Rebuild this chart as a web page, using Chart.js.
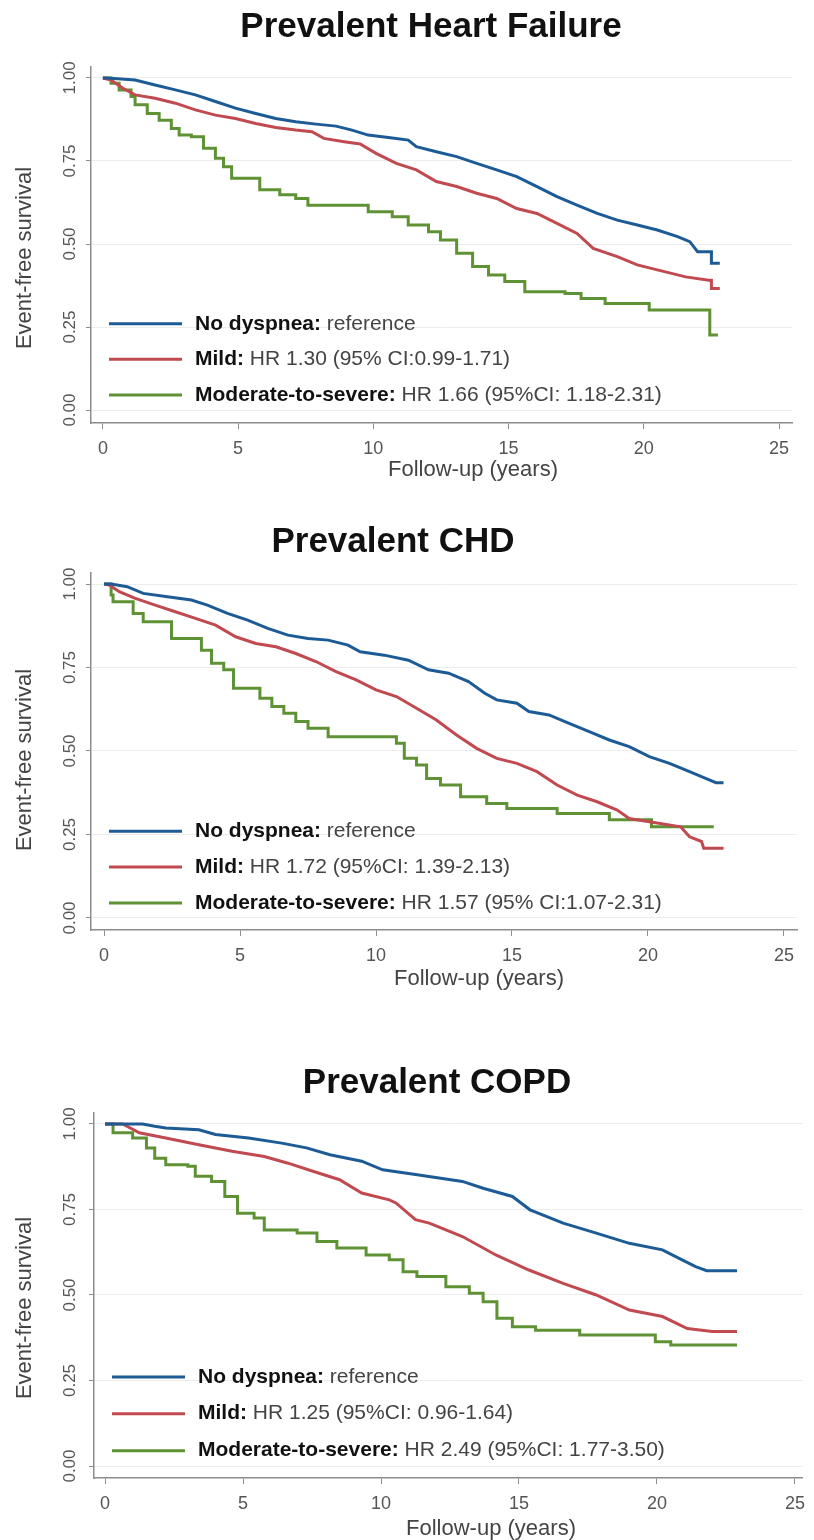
<!DOCTYPE html>
<html>
<head>
<meta charset="utf-8">
<title>Event-free survival by dyspnea grade</title>
<script src="https://cdn.jsdelivr.net/npm/chart.js@4.4.1/dist/chart.umd.min.js"></script>
<style>
    body { margin: 0; background: #fff; }
    .panel { position: absolute; left: 0; width: 814px; }
</style>
</head>
<body>
<div class="panel" style="top:0px"><canvas id="hf" width="814" height="500"></canvas></div>
<div class="panel" style="top:500px"><canvas id="chd" width="814" height="500"></canvas></div>
<div class="panel" style="top:1040px"><canvas id="copd" width="814" height="500"></canvas></div>
<script>
// Tick values shared by all three panels
const xTicks = [0, 5, 10, 15, 20, 25];
const yTicks = [0, 0.25, 0.5, 0.75, 1];

// Group names and colours (same order in every panel)
const groupNames = ['No dyspnea:', 'Mild:', 'Moderate-to-severe:'];
const groupColors = ['#1d5b96', '#c04a50', '#5e9234'];
// the big groups have many tiny steps, the small group shows clear steps
const groupStepped = [false, false, 'before'];

// Hazard ratio text per panel
const hfLabels = [' reference', ' HR 1.30 (95% CI:0.99-1.71)', ' HR 1.66 (95%CI: 1.18-2.31)'];
const chdLabels = [' reference', ' HR 1.72 (95%CI: 1.39-2.13)', ' HR 1.57 (95% CI:1.07-2.31)'];
const copdLabels = [' reference', ' HR 1.25 (95%CI: 0.96-1.64)', ' HR 2.49 (95%CI: 1.77-3.50)'];

// Kaplan-Meier curves, [follow-up years, event-free survival]
const hfNone = [[0,1],[0.15,1],[1.19,0.994],[1.93,0.979],[2.68,0.964],[3.42,0.949],[4.16,0.929],[4.9,0.909],
    [5.65,0.893],[6.39,0.878],[7.13,0.868],[7.88,0.861],[8.62,0.855],[9.21,0.843],[9.81,0.828],[10.85,0.818],
    [11.29,0.813],[11.59,0.793],[12.33,0.778],[13.08,0.763],[13.82,0.743],[14.56,0.723],[15.3,0.703],
    [16.05,0.673],[16.79,0.643],[17.53,0.617],[18.28,0.592],[19.02,0.572],[19.76,0.557],[20.5,0.542],
    [21.25,0.522],[21.7,0.507],[21.99,0.477],[22.5,0.477],[22.5,0.442],[22.81,0.442]];
const hfMild = [[0,1],[0.3,0.994],[0.74,0.969],[1.19,0.949],[1.93,0.939],[2.68,0.924],[3.42,0.904],[4.16,0.888],
    [4.9,0.878],[5.65,0.863],[6.39,0.851],[7.13,0.843],[7.73,0.838],[8.17,0.818],[8.92,0.808],[9.51,0.801],
    [10.1,0.773],[10.85,0.743],[11.59,0.723],[12.33,0.688],[13.08,0.673],[13.82,0.653],[14.56,0.637],
    [15.3,0.607],[16.05,0.592],[16.79,0.562],[17.53,0.532],[18.13,0.487],[19.02,0.462],[19.76,0.437],
    [20.5,0.422],[21.55,0.401],[22.4,0.391],[22.5,0.391],[22.5,0.366],[22.81,0.366]];
const hfModSev = [[0,1],[0.3,0.984],[0.6,0.964],[1.04,0.944],[1.19,0.919],[1.64,0.893],[2.08,0.873],[2.53,0.848],
    [2.82,0.828],[3.27,0.823],[3.72,0.788],[4.16,0.758],[4.46,0.733],[4.76,0.698],[5.8,0.663],[6.54,0.648],
    [7.13,0.637],[7.58,0.617],[9.81,0.597],[10.7,0.582],[11.29,0.557],[12.04,0.537],[12.48,0.512],
    [13.08,0.472],[13.67,0.432],[14.26,0.407],[14.86,0.387],[15.6,0.356],[17.09,0.351],[17.68,0.336],
    [18.57,0.321],[20.2,0.301],[22.44,0.226],[22.74,0.226]];

const chdNone = [[0,1],[0.26,1],[0.85,0.992],[1.44,0.972],[2.33,0.962],[3.21,0.952],[3.8,0.937],[4.54,0.912],
    [5.28,0.892],[6.02,0.867],[6.76,0.847],[7.5,0.837],[8.24,0.832],[8.97,0.817],[9.42,0.797],[10.3,0.787],
    [11.19,0.772],[11.93,0.743],[12.67,0.733],[13.4,0.708],[14.0,0.673],[14.44,0.653],[15.18,0.643],
    [15.62,0.618],[16.36,0.608],[17.1,0.583],[17.84,0.558],[18.58,0.533],[19.31,0.513],[20.05,0.483],
    [20.79,0.463],[21.53,0.438],[22.12,0.418],[22.5,0.405],[22.78,0.405]];
const chdMild = [[0,1],[0.19,0.997],[0.56,0.977],[1.15,0.957],[1.88,0.937],[2.62,0.917],[3.36,0.897],[4.1,0.877],
    [4.84,0.842],[5.58,0.822],[6.32,0.812],[7.05,0.792],[7.79,0.768],[8.53,0.738],[9.27,0.713],[10.0,0.683],
    [10.75,0.663],[11.49,0.628],[12.22,0.593],[12.96,0.548],[13.7,0.508],[14.44,0.478],[15.18,0.463],
    [15.92,0.438],[16.66,0.398],[17.4,0.368],[18.13,0.348],[18.87,0.323],[19.31,0.298],[20.05,0.288],
    [21.2,0.273],[21.53,0.243],[21.97,0.229],[22.05,0.209],[22.78,0.209]];
const chdModSev = [[0,1],[0.26,0.967],[0.33,0.947],[1.07,0.912],[1.44,0.887],[2.48,0.837],[3.58,0.802],
    [3.95,0.763],[4.4,0.743],[4.76,0.688],[5.73,0.658],[6.17,0.633],[6.61,0.613],[7.05,0.588],[7.5,0.568],
    [8.24,0.543],[10.75,0.523],[11.04,0.478],[11.49,0.458],[11.86,0.418],[12.37,0.398],[13.11,0.363],
    [14.07,0.343],[14.81,0.328],[16.66,0.313],[18.58,0.294],[20.13,0.273],[22.42,0.273]];

const copdNone = [[0,1],[1.36,1],[1.8,0.993],[2.2,0.988],[3.4,0.983],[4.0,0.969],[5.2,0.959],[6.4,0.944],
    [7.3,0.930],[8.15,0.910],[9.3,0.891],[10.06,0.866],[11.25,0.852],[12.95,0.832],[13.7,0.812],
    [14.76,0.788],[15.4,0.749],[16.6,0.710],[17.8,0.681],[19.0,0.651],[20.2,0.632],[20.8,0.607],
    [21.4,0.583],[21.8,0.571],[22.9,0.571]];
const copdMild = [[0,1],[0.64,1],[1.24,0.974],[2.2,0.959],[3.4,0.939],[4.6,0.920],[5.77,0.905],[6.6,0.886],
    [7.56,0.861],[8.5,0.837],[9.3,0.798],[10.3,0.778],[10.54,0.769],[11.25,0.720],[11.75,0.710],
    [12.95,0.671],[14.16,0.617],[15.36,0.573],[16.6,0.534],[17.8,0.5],[19.0,0.456],[20.2,0.437],
    [21.1,0.402],[22.0,0.393],[22.9,0.393]];
const copdModSev = [[0,1],[0.29,0.974],[1.0,0.959],[1.5,0.93],[1.8,0.9],[2.2,0.881],[3.0,0.876],[3.27,0.847],
    [3.86,0.832],[4.34,0.788],[4.8,0.739],[5.4,0.725],[5.77,0.690],[6.96,0.681],[7.68,0.656],[8.4,0.637],
    [9.46,0.617],[10.3,0.603],[10.8,0.568],[11.3,0.554],[12.35,0.524],[13.2,0.505],[13.7,0.480],
    [14.2,0.432],[14.76,0.407],[15.6,0.397],[17.2,0.383],[19.94,0.363],[20.5,0.354],[22.9,0.354]];

const FONT = '"Liberation Sans", Arial, Helvetica, sans-serif';
const AXIS_GREY = '#8c8c8c';

// Draws the panel title, axis titles, rotated y labels and the legend
const panelText = {
    id: 'panelText',
    afterDraw(chart, args, o) {
        const ctx = chart.ctx;
        const area = chart.chartArea;
        const ys = chart.scales.y;
        ctx.save();

        // title
        ctx.fillStyle = '#111';
        ctx.font = 'bold 35px ' + FONT;
        ctx.textAlign = 'center';
        ctx.textBaseline = 'alphabetic';
        ctx.fillText(o.title, o.titleX, o.titleY);

        // x axis title
        ctx.fillStyle = '#444';
        ctx.font = '22px ' + FONT;
        ctx.fillText('Follow-up (years)', o.xTitleX, o.xTitleY);

        // y axis title
        ctx.save();
        ctx.translate(25, o.yTitleY);
        ctx.rotate(-Math.PI / 2);
        ctx.textBaseline = 'middle';
        ctx.fillText('Event-free survival', 0, 0);
        ctx.restore();

        // y tick labels, rotated like Stata does
        ctx.fillStyle = '#555';
        ctx.font = '17px ' + FONT;
        yTicks.forEach(v => {
            ctx.save();
            ctx.translate(70, ys.getPixelForValue(v));
            ctx.rotate(-Math.PI / 2);
            ctx.textAlign = 'center';
            ctx.textBaseline = 'middle';
            ctx.fillText(v.toFixed(2), 0, 0);
            ctx.restore();
        });

        // legend inside the plot region
        const rows = [0.26, 0.153, 0.045];
        ctx.textAlign = 'left';
        ctx.textBaseline = 'middle';
        rows.forEach((r, i) => {
            const y = ys.getPixelForValue(r);
            ctx.strokeStyle = groupColors[i];
            ctx.lineWidth = 3;
            ctx.beginPath();
            ctx.moveTo(area.left + 18, y);
            ctx.lineTo(area.left + 91, y);
            ctx.stroke();

            let x = area.left + 104;
            ctx.font = 'bold 21px ' + FONT;
            ctx.fillStyle = '#111';
            ctx.fillText(groupNames[i], x, y);
            x += ctx.measureText(groupNames[i]).width;
            ctx.font = '21px ' + FONT;
            ctx.fillStyle = '#444';
            ctx.fillText(o.labels[i], x, y);
        });
        ctx.restore();
    }
};

function toPoints(pairs) {
    return pairs.map(p => ({ x: p[0], y: p[1] }));
}

function makePanel(id, p) {
    const canvas = document.getElementById(id);
    const W = canvas.width, H = canvas.height;

    const datasets = p.curves.map((c, i) => ({
        label: groupNames[i],
        data: toPoints(c),
        borderColor: groupColors[i],
        borderWidth: 3,
        borderJoinStyle: 'miter',
        pointRadius: 0,
        tension: 0,
        stepped: groupStepped[i],
        fill: false
    }));

    return new Chart(canvas, {
        type: 'line',
        data: { datasets: datasets },
        options: {
            responsive: false,
            animation: false,
            events: [],
            layout: { padding: { top: p.top, right: W - p.right, left: 0, bottom: 0 } },
            plugins: {
                legend: { display: false },
                title: { display: false },
                tooltip: { enabled: false },
                panelText: {
                    title: p.title, titleX: p.titleX, titleY: p.titleY,
                    xTitleX: p.xTitleX, xTitleY: p.xTitleY, yTitleY: p.yTitleY,
                    labels: p.labels
                }
            },
            scales: {
                x: {
                    type: 'linear',
                    min: p.xMin,
                    max: p.xMax,
                    bounds: 'data',
                    afterBuildTicks: s => { s.ticks = xTicks.map(v => ({ value: v })); },
                    afterFit: s => { s.height = H - p.bottom; },
                    border: { color: AXIS_GREY, width: 1.5 },
                    grid: { drawOnChartArea: false, drawTicks: true, tickLength: 6, tickColor: AXIS_GREY },
                    ticks: { color: '#555', font: { family: FONT, size: 18 }, padding: 9, maxRotation: 0 }
                },
                y: {
                    type: 'linear',
                    min: p.yMin,
                    max: p.yMax,
                    bounds: 'data',
                    afterBuildTicks: s => { s.ticks = yTicks.map(v => ({ value: v })); },
                    afterFit: s => { s.width = p.left; },
                    border: { color: AXIS_GREY, width: 1.5 },
                    grid: { color: '#ececec', lineWidth: 1, tickLength: 5, tickColor: AXIS_GREY },
                    ticks: { display: false }
                }
            }
        },
        plugins: [panelText]
    });
}

makePanel('hf', {
    title: 'Prevalent Heart Failure', titleX: 431, titleY: 37,
    xTitleX: 473, xTitleY: 476, yTitleY: 258,
    left: 91, right: 792, top: 67, bottom: 423,
    xMin: -0.44, xMax: 25.48, yMin: -0.039, yMax: 1.033,
    labels: hfLabels,
    curves: [hfNone, hfMild, hfModSev]
});

makePanel('chd', {
    title: 'Prevalent CHD', titleX: 393, titleY: 52,
    xTitleX: 479, xTitleY: 485, yTitleY: 260,
    left: 91, right: 797, top: 73, bottom: 430,
    xMin: -0.48, xMax: 25.48, yMin: -0.036, yMax: 1.033,
    labels: chdLabels,
    curves: [chdNone, chdMild, chdModSev]
});

makePanel('copd', {
    title: 'Prevalent COPD', titleX: 437, titleY: 53,
    xTitleX: 491, xTitleY: 495, yTitleY: 268,
    left: 94, right: 812, top: 73, bottom: 438,
    xMin: -0.40, xMax: 25.27, yMin: -0.035, yMax: 1.032,
    labels: copdLabels,
    curves: [copdNone, copdMild, copdModSev]
});
</script>
</body>
</html>
